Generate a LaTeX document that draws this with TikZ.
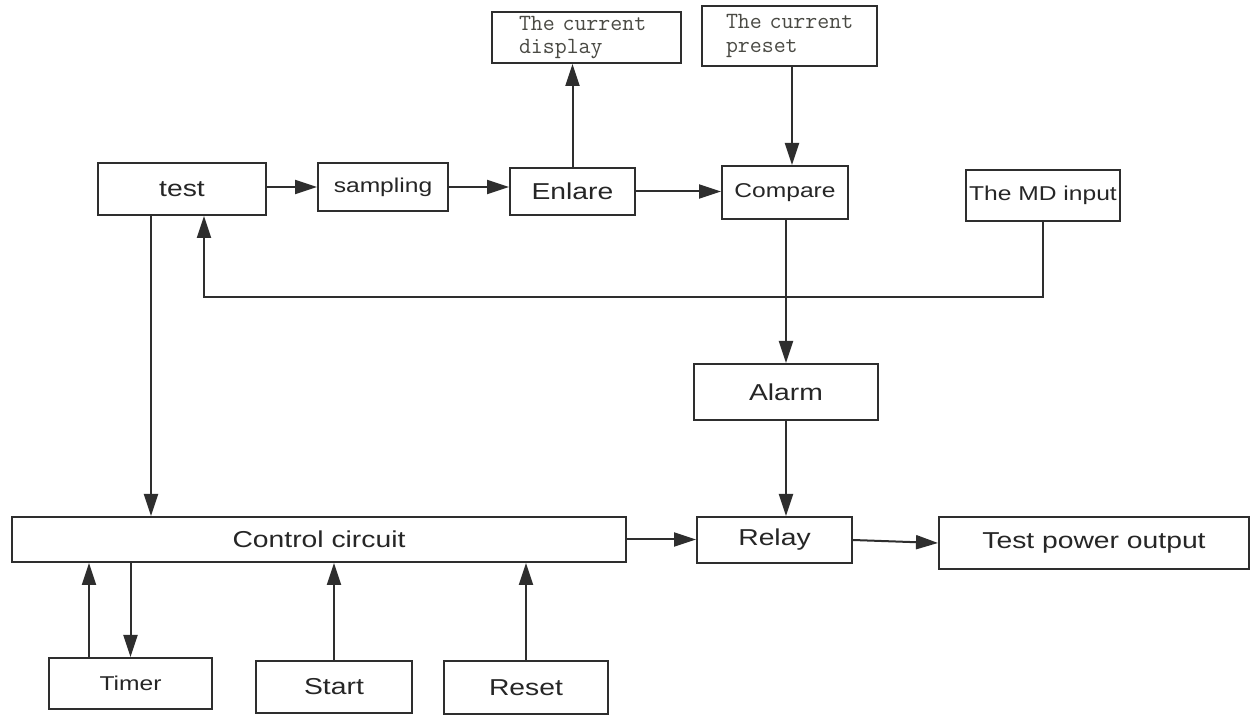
\documentclass[tikz,border=0pt]{standalone}
\usepackage{fontspec}
\setmainfont{Liberation Sans}
\newfontfamily\bigfont[FakeStretch=1.23]{Liberation Sans}
\usetikzlibrary{arrows.meta,calc}
\definecolor{linec}{HTML}{2E2E2E}
\definecolor{txtc}{HTML}{262626}
\definecolor{monoc}{HTML}{4A4A44}
\begin{document}
\begin{tikzpicture}[x=0.5pt,y=-0.5pt,
  bx/.style 2 args={draw=linec, line width=1pt, inner sep=0pt, minimum width=#1*0.5pt, minimum height=#2*0.5pt, text=txtc},
  big/.style={font=\bigfont\fontsize{11.5pt}{13pt}\selectfont},
  small/.style={font=\bigfont\fontsize{10pt}{12pt}\selectfont},
  mono/.style={font=\ttfamily\fontsize{11.6pt}{11.6pt}\selectfont, align=left, text=monoc},
  arr/.style={draw=linec, line width=1pt, -{Triangle[length=11pt,width=7pt]}}]
\fill[white] (0,0) rectangle (1250,716);
\useasboundingbox (0,0) rectangle (1250,716);

% top boxes
\node[bx={189}{51}, mono, text width=94.5pt] (disp) at (586.5,37.5) {\hspace*{13.5pt}The current\\\hspace*{13.5pt}display};
\node[bx={175}{60}, mono, text width=87.5pt] (preset) at (789.5,36) {\hspace*{12pt}The current\\\hspace*{12pt}preset};

% main row
\node[bx={168}{52}, big] (test) at (182,189) {test};
\node[bx={130}{48}, small] (sampling) at (383,187) {sampling};
\node[bx={125}{47}, big] (enlare) at (572.5,191.5) {Enlare};
\node[bx={126}{53}, small] (compare) at (785,192.5) {Compare};
\node[bx={154}{51}, small] (md) at (1043,195.5) {The MD input};

\node[bx={184}{56}, big] (alarm) at (786,392) {Alarm};

\node[bx={614}{45}, big] (control) at (319,539.5) {Control circuit};
\node[bx={155}{46}, big] (relay) at (774.5,540) {Relay};
\node[bx={310}{52}, big] (tpo) at (1094,543) {Test power output};

\node[bx={163}{51}, small] (timer) at (130.5,683.5) {Timer};
\node[bx={156}{52}, big] (start) at (334,687) {Start};
\node[bx={164}{53}, big] (reset) at (526,687.5) {Reset};

% connectors
\draw[arr] (test.east |- sampling.west) -- (sampling.west);
\draw[arr] (sampling.east) -- (sampling.east -| enlare.west);
\draw[arr] (enlare.east) -- (enlare.east -| compare.west);
\draw[arr] (enlare.north) -- (enlare.north |- disp.south);
\coordinate (pr) at ($(preset.south)+(2.5,0)$);
\draw[arr] (pr) -- (pr |- compare.north);
\draw[arr] (alarm.north |- compare.south) -- (alarm.north);
\coordinate (fbin) at ($(test.south)+(22,0)$);
\coordinate (fbrow) at (0,297);
\draw[arr] (md.south) -- (md.south |- fbrow) -| (fbin);
\draw[arr] (alarm.south) -- (alarm.south |- relay.north);
\draw[arr] (control.east) -- (control.east -| relay.west);
\draw[arr] (relay.east) -- (tpo.west);
\coordinate (tdown) at ($(test.south)+(-31,0)$);
\draw[arr] (tdown) -- (tdown |- control.north);
\coordinate (tup) at ($(timer.north)+(-41.5,0)$);
\draw[arr] (tup) -- (tup |- control.south);
\draw[arr] (control.south -| timer.north) -- (timer.north);
\draw[arr] (start.north) -- (start.north |- control.south);
\draw[arr] (reset.north) -- (reset.north |- control.south);
\end{tikzpicture}
\end{document}
